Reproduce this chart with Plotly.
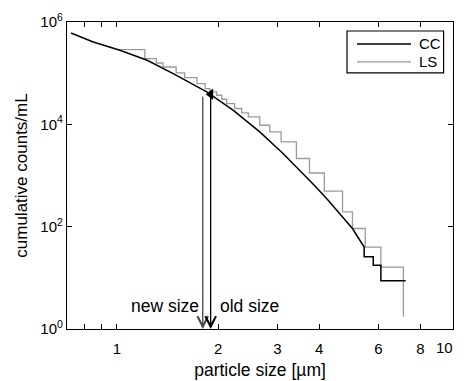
import numpy as np
import plotly.graph_objects as go

# ---- data ----
cc_x = [0.73, 0.80, 0.85, 1.02, 1.23, 1.47, 1.85, 2.22, 2.66, 3.12, 3.50, 3.91,
        4.25, 4.59, 5.02, 5.44, 5.44, 5.79, 5.79, 6.10, 6.10, 7.23]
cc_y = [6.1e5, 4.8e5, 4.07e5, 2.8e5, 1.79e5, 9.8e4, 4.3e4, 1.88e4, 7.1e3, 2.7e3,
        1.26e3, 598, 330, 181, 92, 40, 25.7, 25.7, 17.7, 17.7, 8.8, 8.8]

ls_x = [1.01, 1.21, 1.31, 1.37, 1.50, 1.59, 1.73, 1.83, 1.89, 1.98, 2.05, 2.12,
        2.24, 2.35, 2.46, 2.66, 2.85, 3.08, 3.42, 3.74, 4.14, 4.69, 5.02, 5.48,
        6.10, 7.12]
ls_y = [2.89e5, 1.93e5, 1.58e5, 1.32e5, 1.01e5, 8.2e4, 6.27e4, 5.0e4, 4.3e4,
        3.7e4, 3.09e4, 2.55e4, 2.04e4, 1.67e4, 1.40e4, 9.6e3, 7.1e3, 4.53e3,
        2.15e3, 1.12e3, 493, 195, 92, 40, 16.2, 1.73]

series_names = ["CC", "LS"]
series_colors = ["#000000", "#9a9a9a"]

x_tickvals = [0.8, 0.9, 1, 2, 3, 4, 6, 8, 10]
x_ticktext = ["", "", "1", "2", "3", "4", "6", "8", ""]
y_tickvals = [1, 1e2, 1e4, 1e6]
y_ticktext = ["10<sup>0</sup>", "10<sup>2</sup>", "10<sup>4</sup>", "10<sup>6</sup>"]

arrow_x = [1.80, 1.90]            # new size, old size
arrow_top = [3.7e4, 3.6e4]
arrow_bottom = 1
arrow_colors = ["#444444", "#000000"]
marker_pt = (1.90, 3.87e4)

FONT = "Arial, Liberation Sans, sans-serif"

fig = go.Figure()
fig.add_trace(go.Scatter(x=ls_x, y=ls_y, mode="lines", name=series_names[1],
                         line=dict(color=series_colors[1], width=1.3, shape="hv"),
                         showlegend=False))
fig.add_trace(go.Scatter(x=cc_x, y=cc_y, mode="lines", name=series_names[0],
                         line=dict(color=series_colors[0], width=1.5),
                         showlegend=False))
fig.add_trace(go.Scatter(x=[marker_pt[0]], y=[marker_pt[1]], mode="markers",
                         marker=dict(symbol="triangle-left", size=10, color="black"),
                         showlegend=False))

annotations = []
for ax_, top, col in zip(arrow_x, arrow_top, arrow_colors):
    annotations.append(dict(
        x=np.log10(ax_), y=np.log10(arrow_bottom), xref="x", yref="y",
        ax=np.log10(ax_), ay=np.log10(top), axref="x", ayref="y",
        showarrow=True, arrowhead=5, arrowsize=1.6, arrowwidth=1.3,
        arrowcolor=col, text=""))

annotations.append(dict(x=np.log10(1.78), y=np.log10(2.8), xref="x", yref="y",
                        text="new size", showarrow=False, xanchor="right",
                        font=dict(family=FONT, size=17.5, color="black")))
annotations.append(dict(x=np.log10(2.0), y=np.log10(2.8), xref="x", yref="y",
                        text="old size", showarrow=False, xanchor="left",
                        font=dict(family=FONT, size=17.5, color="black")))
# "10" tick label on the right end of the x axis
annotations.append(dict(x=1, y=0, xref="paper", yref="paper", yanchor="top",
                        xanchor="center", xshift=-9, yshift=-8, text="10",
                        showarrow=False, font=dict(family=FONT, size=15, color="black")))

# custom legend
shapes = [dict(type="rect", xref="paper", yref="paper", x0=0.7254, x1=0.9756,
               y0=0.834, y1=0.9707, line=dict(color="black", width=1.2),
               fillcolor="white", layer="above")]
leg_y = [0.9284, 0.8698]
for name, col, yy in zip(series_names, series_colors, leg_y):
    shapes.append(dict(type="line", xref="paper", yref="paper", x0=0.7513, x1=0.8912,
                       y0=yy, y1=yy, line=dict(color=col, width=1.5 if col == "#000000" else 1.3),
                       layer="above"))
    annotations.append(dict(x=0.9067, y=yy, xref="paper", yref="paper", text=name,
                            showarrow=False, xanchor="left", yanchor="middle",
                            font=dict(family=FONT, size=15, color="black")))

fig.update_layout(
    width=464, height=381,
    margin=dict(l=67, r=11, t=22, b=52),
    paper_bgcolor="white", plot_bgcolor="white",
    font=dict(family=FONT, size=15, color="black"),
    shapes=shapes, annotations=annotations,
    xaxis=dict(type="log", range=[np.log10(0.71), 1.0],
               tickmode="array", tickvals=x_tickvals, ticktext=x_ticktext,
               ticks="inside", ticklen=5, tickwidth=1, tickcolor="black",
               ticklabelstandoff=6,
               showline=True, linecolor="black", linewidth=1.3, mirror="ticks",
               showgrid=False, zeroline=False,
               tickfont=dict(family=FONT, size=15),
               title=dict(text="particle size [µm]", standoff=7,
                          font=dict(family=FONT, size=17.5)),
               automargin=False),
    yaxis=dict(type="log", range=[0, 6],
               tickmode="array", tickvals=y_tickvals, ticktext=y_ticktext,
               ticks="inside", ticklen=5, tickwidth=1, tickcolor="black",
               showline=True, linecolor="black", linewidth=1.3, mirror="ticks",
               showgrid=False, zeroline=False,
               tickfont=dict(family=FONT, size=15),
               title=dict(text="cumulative counts/mL", standoff=8,
                          font=dict(family=FONT, size=17)),
               automargin=False),
)

fig.write_html("out.html")
